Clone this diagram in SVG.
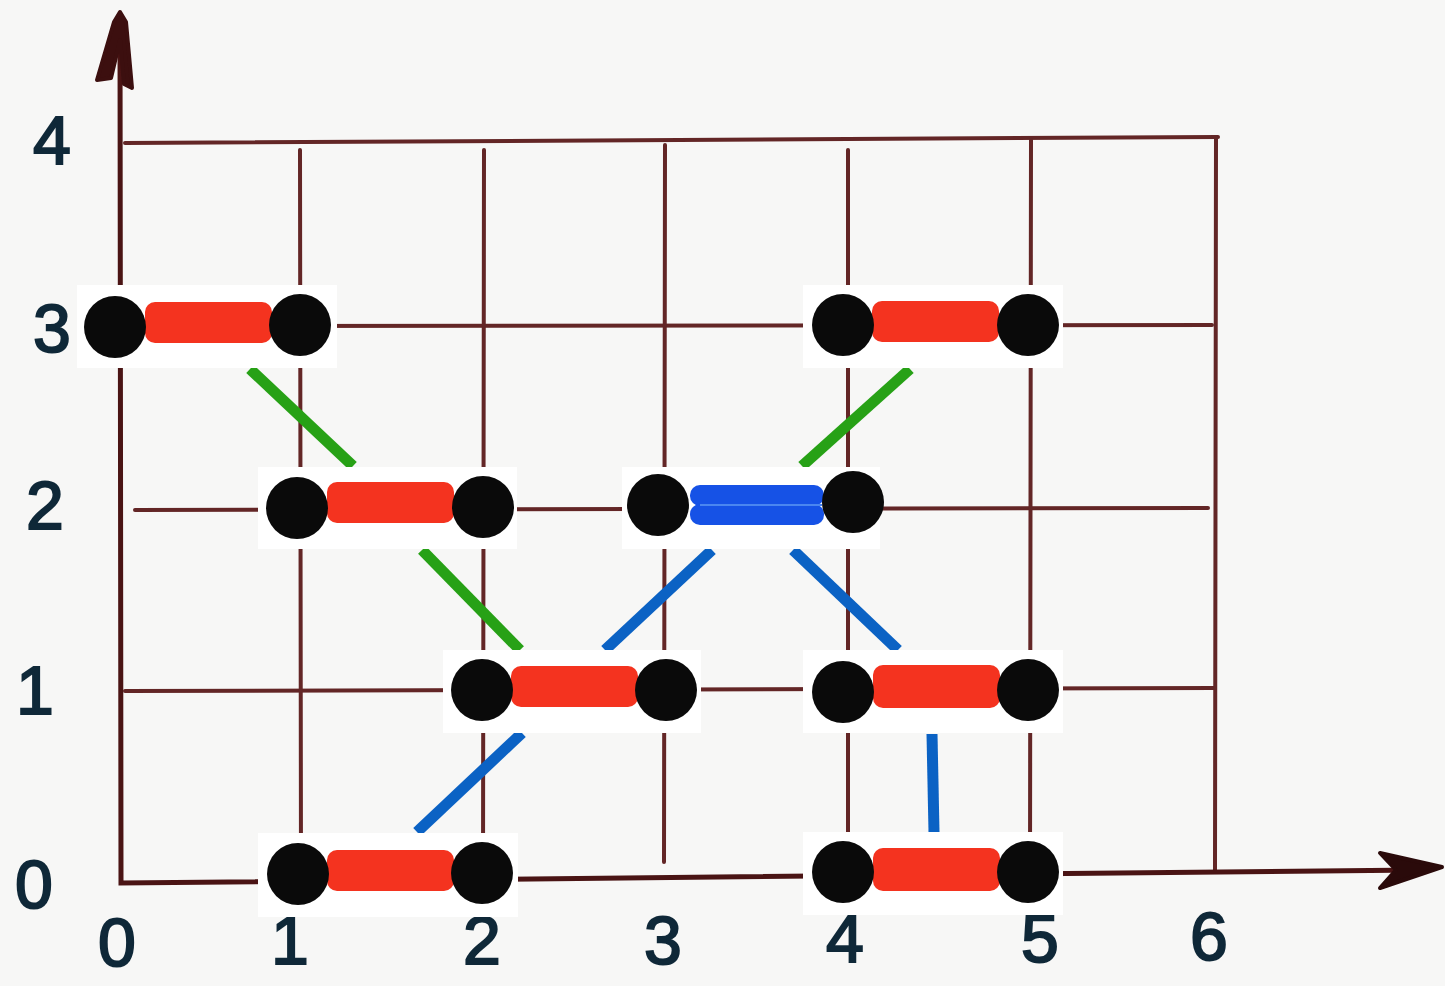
<svg xmlns="http://www.w3.org/2000/svg" width="1445" height="986" viewBox="0 0 1445 986">
<style>
.grid{stroke:#632626;stroke-width:4;stroke-linecap:round;fill:none}
.axis{stroke:#4a1414;stroke-width:5;stroke-linecap:round;fill:none}
.lbl{font-family:"Liberation Sans",Arial,sans-serif;font-size:68px;fill:#0f2838;stroke:#0f2838;stroke-width:2;text-anchor:middle}
.bg{fill:#ffffff}
.dot{fill:#0a0a0a}
.red{fill:#f4331f}
.blue{fill:#1652e6}
.green{stroke:#27a116;stroke-width:11;stroke-linecap:butt}
.bl{stroke:#0b62c4;stroke-width:11;stroke-linecap:butt}
</style>
<rect width="1445" height="986" fill="#f7f7f6"/>
<g id="grid">
<line class="grid" x1="125" y1="143" x2="1218" y2="137"/>
<line class="grid" x1="125" y1="326" x2="1212" y2="325"/>
<line class="grid" x1="135" y1="510" x2="1208" y2="508"/>
<line class="grid" x1="125" y1="691" x2="1215" y2="688"/>
<line class="grid" x1="300" y1="150" x2="301" y2="880"/>
<line class="grid" x1="484" y1="150" x2="483" y2="878"/>
<line class="grid" x1="665" y1="145" x2="664" y2="862"/>
<line class="grid" x1="848" y1="150" x2="848" y2="876"/>
<line class="grid" x1="1031" y1="140" x2="1030" y2="875"/>
<line class="grid" x1="1216" y1="137" x2="1215" y2="870"/>
</g>
<g id="axes">
<path class="axis" d="M120,24 L121,883 L1420,870"/>
<path d="M97,80 L114,22 L120,12 L126,22 L132,88 L124,84 L120,40 L111,78 Z" fill="#3c0f0f" stroke="#3c0f0f" stroke-width="4" stroke-linejoin="round"/>
<path d="M1380,853 L1442,867 L1380,888 L1396,870 Z" fill="#2a0a0a" stroke="#2a0a0a" stroke-width="4" stroke-linejoin="round"/>
</g>
<g id="labels">
<text class="lbl" x="52" y="164">4</text>
<text class="lbl" x="52" y="352">3</text>
<text class="lbl" x="45" y="529">2</text>
<text class="lbl" x="35" y="714">1</text>
<text class="lbl" x="34" y="908">0</text>
<text class="lbl" x="117" y="966">0</text>
<text class="lbl" x="290" y="964">1</text>
<text class="lbl" x="482" y="964">2</text>
<text class="lbl" x="663" y="964">3</text>
<text class="lbl" x="845" y="962">4</text>
<text class="lbl" x="1040" y="962">5</text>
<text class="lbl" x="1209" y="960">6</text>
</g>
<g id="connectors">
<line class="green" x1="250" y1="369" x2="353" y2="466"/>
<line class="green" x1="422" y1="550" x2="520" y2="650"/>
<line class="green" x1="910" y1="369" x2="802" y2="466"/>
<line class="bl" x1="712" y1="550" x2="605" y2="650"/>
<line class="bl" x1="522" y1="733" x2="417" y2="832"/>
<line class="bl" x1="793" y1="550" x2="898" y2="650"/>
<line class="bl" x1="932" y1="734" x2="934" y2="832"/>
</g>
<g id="node-A">
<rect class="bg" x="77" y="285" width="260" height="83"/>
<rect class="red" x="145" y="302" width="127" height="41" rx="10"/>
<circle class="dot" cx="115" cy="327" r="31"/>
<circle class="dot" cx="300" cy="325" r="31"/>
</g>
<g id="node-B">
<rect class="bg" x="258" y="467" width="259" height="82"/>
<rect class="red" x="327" y="482" width="127" height="41" rx="10"/>
<circle class="dot" cx="297" cy="508" r="31"/>
<circle class="dot" cx="483" cy="507" r="31"/>
</g>
<g id="node-C">
<rect class="bg" x="443" y="650" width="258" height="83"/>
<rect class="red" x="511" y="666" width="127" height="41" rx="10"/>
<circle class="dot" cx="482" cy="690" r="31"/>
<circle class="dot" cx="666" cy="690" r="31"/>
</g>
<g id="node-D">
<rect class="bg" x="258" y="833" width="260" height="84"/>
<rect class="red" x="327" y="850" width="127" height="41" rx="10"/>
<circle class="dot" cx="298" cy="874" r="31"/>
<circle class="dot" cx="482" cy="873" r="31"/>
</g>
<g id="node-E">
<rect class="bg" x="622" y="467" width="258" height="82"/>
<rect class="blue" x="690" y="485" width="134" height="21" rx="10"/>
<rect class="blue" x="690" y="504" width="134" height="21" rx="10"/>
<line x1="700" y1="505" x2="822" y2="505" stroke="#4a86f0" stroke-width="2"/>
<circle class="dot" cx="658" cy="505" r="31"/>
<circle class="dot" cx="853" cy="502" r="31"/>
</g>
<g id="node-F">
<rect class="bg" x="803" y="285" width="260" height="83"/>
<rect class="red" x="872" y="301" width="127" height="41" rx="10"/>
<circle class="dot" cx="843" cy="325" r="31"/>
<circle class="dot" cx="1028" cy="325" r="31"/>
</g>
<g id="node-G">
<rect class="bg" x="803" y="650" width="260" height="83"/>
<rect class="red" x="873" y="665" width="127" height="43" rx="10"/>
<circle class="dot" cx="843" cy="692" r="31"/>
<circle class="dot" cx="1028" cy="690" r="31"/>
</g>
<g id="node-H">
<rect class="bg" x="803" y="832" width="260" height="83"/>
<rect class="red" x="873" y="848" width="127" height="43" rx="10"/>
<circle class="dot" cx="843" cy="872" r="31"/>
<circle class="dot" cx="1028" cy="872" r="31"/>
</g>
</svg>
